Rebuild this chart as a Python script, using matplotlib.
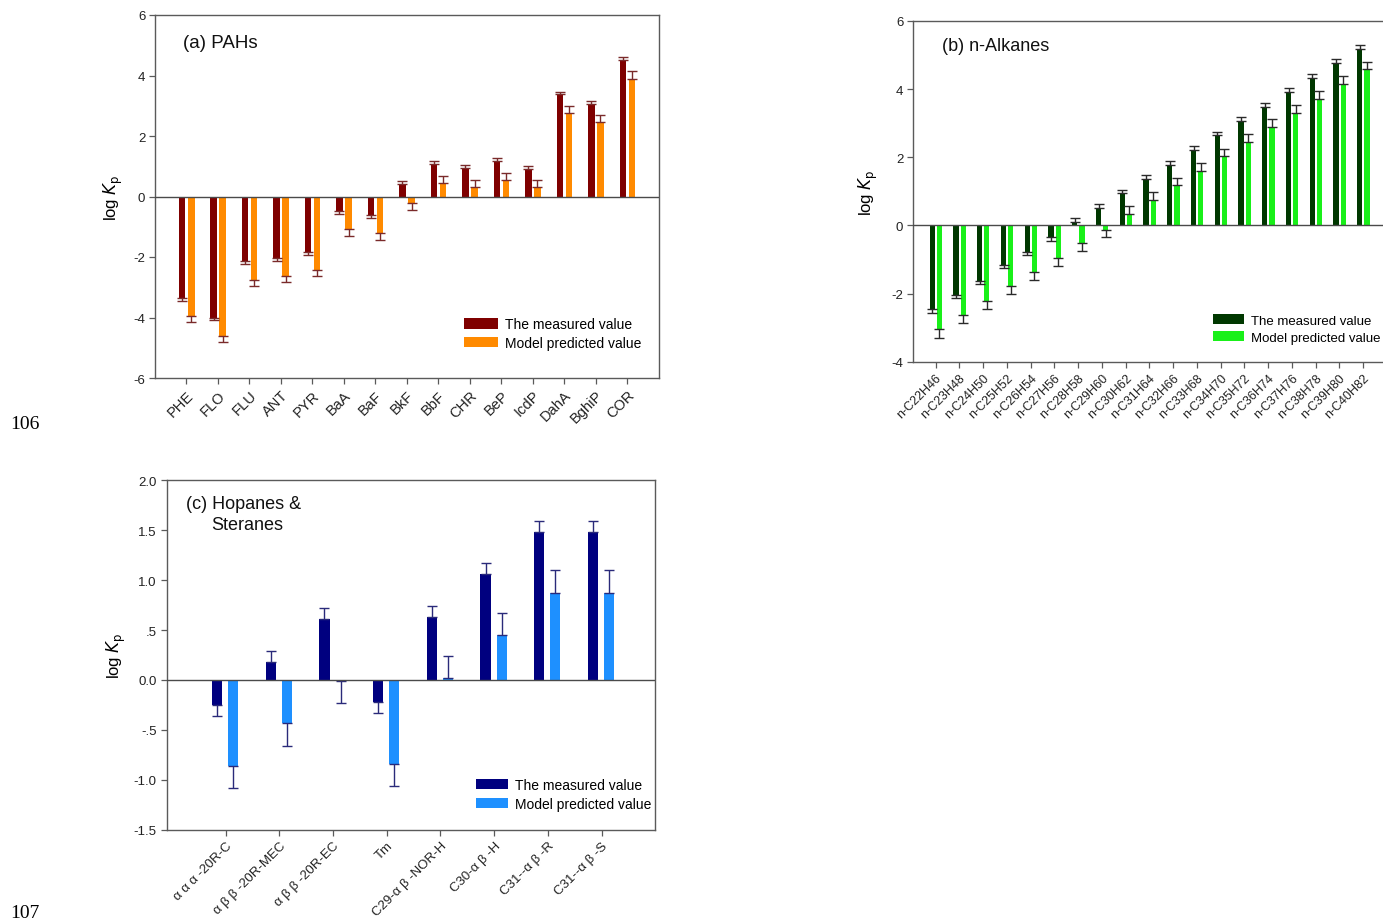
import numpy as np
import matplotlib
matplotlib.use("Agg")
import matplotlib.pyplot as plt

plt.rcParams['font.family'] = ['Liberation Sans', 'DejaVu Sans']

# ---------------- data ----------------
pah_labels = ["PHE", "FLO", "FLU", "ANT", "PYR", "BaA", "BaF", "BkF", "BbF",
              "CHR", "BeP", "IcdP", "DahA", "BghiP", "COR"]
pah_measured = [-3.35, -4.00, -2.14, -2.03, -1.83, -0.48, -0.60, 0.41, 1.08,
                0.94, 1.18, 0.91, 3.38, 3.05, 4.50]
pah_measured_err = [0.10, 0.09, 0.10, 0.09, 0.10, 0.09, 0.10, 0.10, 0.09,
                    0.10, 0.09, 0.10, 0.09, 0.11, 0.11]
pah_predicted = [-3.95, -4.60, -2.76, -2.62, -2.43, -1.08, -1.22, -0.22, 0.46,
                 0.32, 0.56, 0.31, 2.76, 2.46, 3.90]
pah_predicted_err = [0.21, 0.20, 0.19, 0.22, 0.21, 0.22, 0.22, 0.21, 0.21,
                     0.22, 0.22, 0.22, 0.22, 0.22, 0.24]

alk_labels = ["n-C22H46", "n-C23H48", "n-C24H50", "n-C25H52", "n-C26H54",
              "n-C27H56", "n-C28H58", "n-C29H60", "n-C30H62", "n-C31H64",
              "n-C32H66", "n-C33H68", "n-C34H70", "n-C35H72", "n-C36H74",
              "n-C37H76", "n-C38H78", "n-C39H80", "n-C40H82"]
alk_measured = [-2.46, -2.04, -1.63, -1.17, -0.77, -0.35, 0.11, 0.51, 0.95,
                1.36, 1.78, 2.22, 2.65, 3.07, 3.49, 3.92, 4.34, 4.76, 5.19]
alk_measured_err = [0.10, 0.08, 0.08, 0.09, 0.09, 0.10, 0.10, 0.11, 0.10,
                    0.12, 0.10, 0.10, 0.10, 0.11, 0.11, 0.10, 0.10, 0.11, 0.11]
alk_predicted = [-3.05, -2.64, -2.23, -1.79, -1.38, -0.95, -0.53, -0.12, 0.33,
                 0.76, 1.19, 1.61, 2.03, 2.46, 2.88, 3.30, 3.72, 4.15, 4.58]
alk_predicted_err = [0.24, 0.21, 0.23, 0.23, 0.23, 0.23, 0.22, 0.21, 0.23,
                     0.23, 0.21, 0.22, 0.22, 0.22, 0.24, 0.23, 0.24, 0.23, 0.23]

hop_labels = ["α α α -20R-C", "α β β -20R-MEC", "α β β -20R-EC", "Tm",
              "C29-α β -NOR-H", "C30-α β -H", "C31--α β -R", "C31--α β -S"]
hop_measured = [-0.25, 0.18, 0.61, -0.22, 0.63, 1.06, 1.48, 1.48]
hop_measured_err = [0.11, 0.11, 0.11, 0.11, 0.11, 0.11, 0.11, 0.11]
hop_predicted = [-0.86, -0.43, -0.01, -0.84, 0.02, 0.45, 0.87, 0.87]
hop_predicted_err = [0.22, 0.23, 0.22, 0.22, 0.22, 0.22, 0.23, 0.23]

legend_labels = ["The measured value", "Model predicted value"]

W, H = 1383, 920
fig = plt.figure(figsize=(W / 100, H / 100), dpi=100)

SPINE = '#5a5a5a'


def one_sided(vals, errs):
    vals = np.asarray(vals)
    errs = np.asarray(errs)
    lower = np.where(vals < 0, errs, 0.0)
    upper = np.where(vals >= 0, errs, 0.0)
    return np.vstack([lower, upper])


def panel(rect_px, labels, meas, meas_err, pred, pred_err, c_meas, c_pred,
          ecolor, ylim, yticks, yticklabels, xlim, width, off_m, off_p,
          title_lines, title_fs, legend_xy, ylabel_x, capsize, xtick_fs, ytick_fs,
          leg_fs, handlelength, show_right=True):
    l, t, r, b = rect_px
    ax = fig.add_axes([l / W, (H - b) / H, (r - l) / W, (b - t) / H])
    x = np.arange(len(labels))
    ax.bar(x + off_m, meas, width, color=c_meas, label=legend_labels[0], zorder=2)
    ax.bar(x + off_p, pred, width, color=c_pred, label=legend_labels[1], zorder=2)
    ax.errorbar(x + off_m, meas, yerr=one_sided(meas, meas_err), fmt='none',
                ecolor=ecolor, elinewidth=1.0, capsize=capsize, capthick=1.0, zorder=3)
    ax.errorbar(x + off_p, pred, yerr=one_sided(pred, pred_err), fmt='none',
                ecolor=ecolor, elinewidth=1.0, capsize=capsize, capthick=1.0, zorder=3)
    ax.axhline(0, color='#4a4a4a', lw=1.0, zorder=4)
    ax.set_xlim(*xlim)
    ax.set_ylim(*ylim)
    ax.set_yticks(yticks)
    ax.set_yticklabels(yticklabels, fontsize=ytick_fs, color='#222222')
    ax.set_xticks(x)
    ax.set_xticklabels(labels, rotation=45, ha='right', rotation_mode='anchor',
                       fontsize=xtick_fs, color='#222222')
    ax.tick_params(axis='both', direction='out', length=4, width=0.9,
                   color=SPINE, pad=3)
    for s in ax.spines.values():
        s.set_color(SPINE)
        s.set_linewidth(1.0)
    if not show_right:
        ax.spines['right'].set_visible(False)
    ax.set_ylabel(r'log $\mathit{K}_{\rm p}$', fontsize=12)
    ax.yaxis.set_label_coords(ylabel_x, 0.5)
    for (tx, ty, txt) in title_lines:
        ax.text(tx, ty, txt, transform=ax.transAxes, fontsize=title_fs,
                ha='left', va='center', color='#111111')
    ax.legend(loc='upper left', bbox_to_anchor=legend_xy, frameon=False,
              fontsize=leg_fs, borderpad=0, borderaxespad=0,
              handlelength=handlelength, handleheight=0.8,
              handletextpad=0.55, labelspacing=0.35)
    return ax


# (a) PAHs
panel((155, 16, 658.7, 379), pah_labels, pah_measured, pah_measured_err,
      pah_predicted, pah_predicted_err, '#7F0000', '#FF8A00', '#7a2a2a',
      (-6, 6), [-6, -4, -2, 0, 2, 4, 6], ['-6', '-4', '-2', '0', '2', '4', '6'],
      (-1, 15), 0.21, -0.14, 0.15,
      [(0.056, 0.923, "(a) PAHs")], 13.5, (0.613, 0.168), -0.06, 3.8,
      10.5, 9.5, 10, 2.45)

# (b) n-Alkanes
panel((913, 22, 1385.7, 362.7), alk_labels, alk_measured, alk_measured_err,
      alk_predicted, alk_predicted_err, '#003800', '#19F019', '#2a2a2a',
      (-4, 6), [-4, -2, 0, 2, 4, 6], ['-4', '-2', '0', '2', '4', '6'],
      (-0.95, 18.95), 0.22, -0.14, 0.16,
      [(0.061, 0.927, "(b) n-Alkanes")], 13, (0.635, 0.14), -0.07, 3.5,
      9, 9.5, 9.5, 2.35, show_right=False)

# (c) Hopanes & Steranes
panel((166.5, 481.3, 655.3, 830.7), hop_labels, hop_measured, hop_measured_err,
      hop_predicted, hop_predicted_err, '#00007F', '#1E90FF', '#2a2a7a',
      (-1.5, 2.0), [-1.5, -1.0, -0.5, 0.0, 0.5, 1.0, 1.5, 2.0],
      ['-1.5', '-1.0', '-.5', '0.0', '.5', '1.0', '1.5', '2.0'],
      (-1.1, 8.0), 0.19, -0.16, 0.14,
      [(0.039, 0.934, "(c) Hopanes &"), (0.091, 0.873, "Steranes")], 13,
      (0.633, 0.148), -0.079, 3.7, 9.5, 9.5, 10, 2.3)

# page line numbers
fig.text(10 / W, 1 - 425 / H, "106", fontsize=14, family='Liberation Serif',
         ha='left', va='center')
fig.text(10 / W, 1 - 914 / H, "107", fontsize=14, family='Liberation Serif',
         ha='left', va='center')

fig.savefig("out.png", dpi=100)
